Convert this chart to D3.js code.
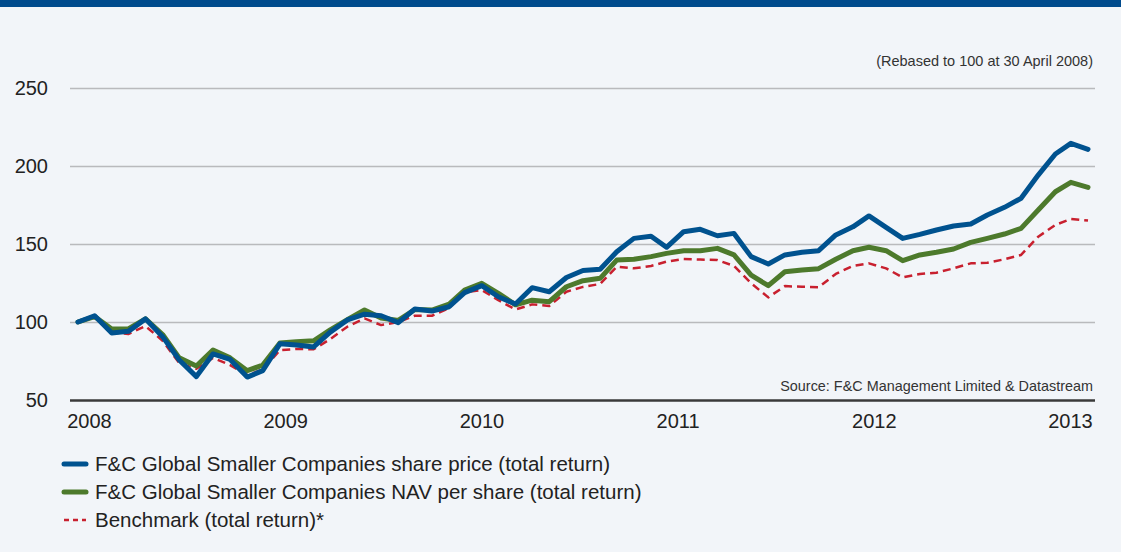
<!DOCTYPE html>
<html>
<head>
<meta charset="utf-8">
<script src="https://cdn.jsdelivr.net/npm/d3@7"></script>
<style>
  body { margin: 0; background: #f2f5f9; }
  svg { display: block; font-family: "Liberation Sans", Arial, sans-serif; }
  .domain { display: none; }
</style>
</head>
<body>
<div id="chart-area"></div>
<script>
// monthly month-end values, 30 April 2008 .. 30 April 2013 (rebased to 100)
const startDate = new Date(2008, 3, 30);
const yearLabels = ["2008", "2009", "2010", "2011", "2012", "2013"];
const yTicks = [50, 100, 150, 200, 250];

const sharePrice = [100, 104, 93, 94, 102, 90.6, 75.6, 65, 79.5, 76, 64.7, 68.8,
  86, 85.3, 84, 93.5, 101.3, 105, 104, 99.6, 108.3, 107, 109.8, 118.8,
  123.3, 116.2, 111.5, 122, 119.4, 128.5, 133, 133.8, 145, 153.6, 155, 147.9,
  157.9, 159.4, 155.3, 156.8, 141.9, 137.2, 143, 144.7, 145.7, 155.8, 161, 168,
  160.7, 153.6, 156.2, 159, 161.5, 162.8, 168.6, 173.5, 179.3, 194.2, 207.7, 214.5,
  210.7];

const navPerShare = [100, 103.5, 95.5, 95.5, 102, 92, 77, 71.8, 82, 77, 68.8, 72.4,
  86.5, 87.4, 88, 95, 101.5, 107.7, 102.6, 101, 108, 107.7, 111.5, 120.5,
  124.8, 118.4, 111, 114, 113, 122.6, 126.5, 128, 139.7, 140.2, 141.9, 144,
  145.7, 145.7, 147.2, 143, 130, 123.3, 132.2, 133.3, 134.2, 140.2, 145.7, 147.9,
  145.7, 139.3, 143, 144.7, 146.8, 151, 153.6, 156.4, 160, 171.8, 183.5, 189.5,
  186.3];

const benchmark = [100, 103, 93.5, 92.3, 97.4, 88, 73.7, 70, 77, 72.4, 66, 69.5,
  82, 82.7, 82.5, 89, 97, 102.3, 98, 100, 104, 104, 109, 119,
  120.5, 114, 108, 111.3, 110.3, 119.4, 122.5, 124.4, 135.5, 134.4, 135.9, 138.7,
  140.4, 140, 139.7, 135.9, 124.8, 115.8, 123, 122.6, 122.3, 130.8, 136, 137.6,
  134.4, 128.6, 130.8, 131.6, 134.4, 137.6, 138, 140.2, 143, 154.7, 162.2, 166,
  165];

const seriesNames = [
  "F&C Global Smaller Companies share price (total return)",
  "F&C Global Smaller Companies NAV per share (total return)",
  "Benchmark (total return)*"
];

const W = 1121, H = 552;
const svg = d3.select("#chart-area").append("svg")
  .attr("width", W).attr("height", H);

svg.append("rect").attr("width", W).attr("height", H).attr("fill", "#f2f5f9");
svg.append("rect").attr("width", W).attr("height", 7).attr("fill", "#004b8d");

const dates = sharePrice.map((d, i) => d3.timeMonth.offset(startDate, i));

const x = d3.scaleTime()
  .domain([dates[0], dates[dates.length - 1]])
  .range([78, 1088]);
const y = d3.scaleLinear().domain([50, 250]).range([400, 88]);
const gridLeft = 70, gridRight = 1095;

// gridlines + y labels
const yAxis = svg.append("g")
  .attr("transform", `translate(${gridLeft},0)`)
  .call(d3.axisLeft(y).tickValues(yTicks).tickSize(-(gridRight - gridLeft)).tickPadding(22));
yAxis.selectAll(".tick line")
  .attr("stroke", d => d === 50 ? "#3a3a3a" : "#b9babd")
  .attr("stroke-width", d => d === 50 ? 2.5 : 1.5);
yAxis.selectAll(".tick text")
  .attr("fill", "#222").attr("font-size", 20).attr("dy", "0.3em");

// year labels
const xLab = d3.scalePoint().domain(yearLabels).range([89, 1070]);
const xAxis = svg.append("g")
  .attr("transform", "translate(0,400)")
  .call(d3.axisBottom(xLab).tickSize(0).tickPadding(14));
xAxis.selectAll("text").attr("fill", "#222").attr("font-size", 20);

// notes
svg.append("text").attr("x", 1093).attr("y", 66).attr("text-anchor", "end")
  .attr("font-size", 14.5).attr("fill", "#333").text("(Rebased to 100 at 30 April 2008)");
svg.append("text").attr("x", 1093).attr("y", 391).attr("text-anchor", "end")
  .attr("font-size", 14.4).attr("fill", "#333").text("Source: F&C Management Limited & Datastream");

const line = d3.line().x((d, i) => x(dates[i])).y(d => y(d));

const styles = [
  { data: benchmark, color: "#c8202f", width: 2.5, dash: "8,5" },
  { data: navPerShare, color: "#4d7a2c", width: 5, dash: null },
  { data: sharePrice, color: "#00528f", width: 5, dash: null }
];
styles.forEach(s => {
  svg.append("path").datum(s.data)
    .attr("d", line)
    .attr("fill", "none")
    .attr("stroke", s.color)
    .attr("stroke-width", s.width)
    .attr("stroke-linejoin", "round")
    .attr("stroke-linecap", s.dash ? "butt" : "round")
    .attr("stroke-dasharray", s.dash);
});

// legend
const legendStyles = [styles[2], styles[1], styles[0]];
const legend = svg.append("g").selectAll("g")
  .data(seriesNames).enter().append("g")
  .attr("transform", (d, i) => `translate(64,${464 + i * 28})`);
legend.append("line")
  .attr("x1", 0).attr("x2", 22)
  .attr("stroke", (d, i) => legendStyles[i].color)
  .attr("stroke-width", (d, i) => legendStyles[i].width)
  .attr("stroke-linecap", (d, i) => legendStyles[i].dash ? "butt" : "round")
  .attr("stroke-dasharray", (d, i) => legendStyles[i].dash ? "5,4" : null);
legend.append("text")
  .attr("x", 31).attr("dy", "0.35em")
  .attr("font-size", 20.5).attr("fill", "#222")
  .text(d => d);
</script>
</body>
</html>
